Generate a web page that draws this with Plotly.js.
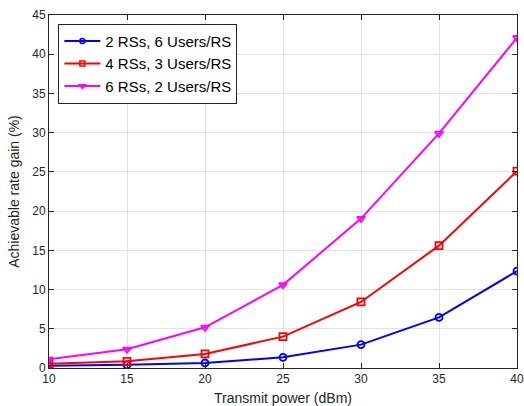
<!DOCTYPE html>
<html><head><meta charset="utf-8">
<script src="https://cdn.plot.ly/plotly-3.0.1.min.js"></script>
<style>body{margin:0;background:#fff}#c{width:524px;height:406px}</style>
</head><body><div id="c"></div>
<script>
const power = [10, 15, 20, 25, 30, 35, 40];
const rs2 = [0.3, 0.4, 0.64, 1.36, 2.98, 6.45, 12.35];
const rs4 = [0.55, 0.85, 1.79, 4.0, 8.42, 15.6, 25.1];
const rs6 = [1.1, 2.38, 5.19, 10.6, 19.05, 29.9, 42.1];
const names = ['2 RSs, 6 Users/RS', '4 RSs, 3 Users/RS', '6 RSs, 2 Users/RS'];
const colors = ['#0000ff', '#ff0000', '#ff00ff'];
const symbols = ['circle-open', 'square-open', 'triangle-down-open'];
const series = [rs2, rs4, rs6];

const data = [];
series.forEach((y, i) => {
  data.push({
    x: power, y: y, name: names[i], type: 'scatter', mode: 'lines+markers', showlegend: false,
    line: {color: colors[i], width: 2},
    marker: {symbol: symbols[i], size: 7, color: colors[i], line: {color: colors[i], width: 1.8}}
  });
});
series.forEach((y, i) => {
  data.push({
    x: [null], y: [null], name: names[i], type: 'scatter', mode: 'lines+markers', showlegend: true,
    line: {color: colors[i], width: 2},
    marker: {symbol: symbols[i], size: 5, color: colors[i], line: {color: colors[i], width: 1.5}}
  });
});
const ax = {
  showline: true, linecolor: '#262626', linewidth: 1, mirror: 'allticks',
  ticks: 'inside', ticklen: 5, tickcolor: '#262626',
  showgrid: true, gridcolor: '#e3e3e3', zeroline: false,
  tickfont: {family: 'Liberation Sans, Arial', size: 12, color: '#262626'}
};
const layout = {
  width: 524, height: 406, paper_bgcolor: '#fff', plot_bgcolor: '#fff',
  margin: {l: 49, r: 7, t: 15, b: 38},
  showlegend: true,
  legend: {x: 0.02, y: 0.975, xanchor: 'left', yanchor: 'top', bgcolor: '#fff',
    bordercolor: '#262626', borderwidth: 1,
    font: {family: 'Liberation Sans, Arial', size: 15, color: '#000'},
    tracegroupgap: 0, itemwidth: 36},
  xaxis: Object.assign({}, ax, {range: [10, 40], tickvals: [10,15,20,25,30,35,40],
    title: {text: 'Transmit power (dBm)', standoff: 13, font: {family: 'Liberation Sans, Arial', size: 14, color: '#262626'}}}),
  yaxis: Object.assign({}, ax, {range: [0, 45], tickvals: [0,5,10,15,20,25,30,35,40,45],
    title: {text: 'Achievable rate gain (%)', standoff: 9, font: {family: 'Liberation Sans, Arial', size: 14, color: '#262626'}}})
};
Plotly.newPlot('c', data, layout, {displayModeBar: false, staticPlot: true});
</script></body></html>
